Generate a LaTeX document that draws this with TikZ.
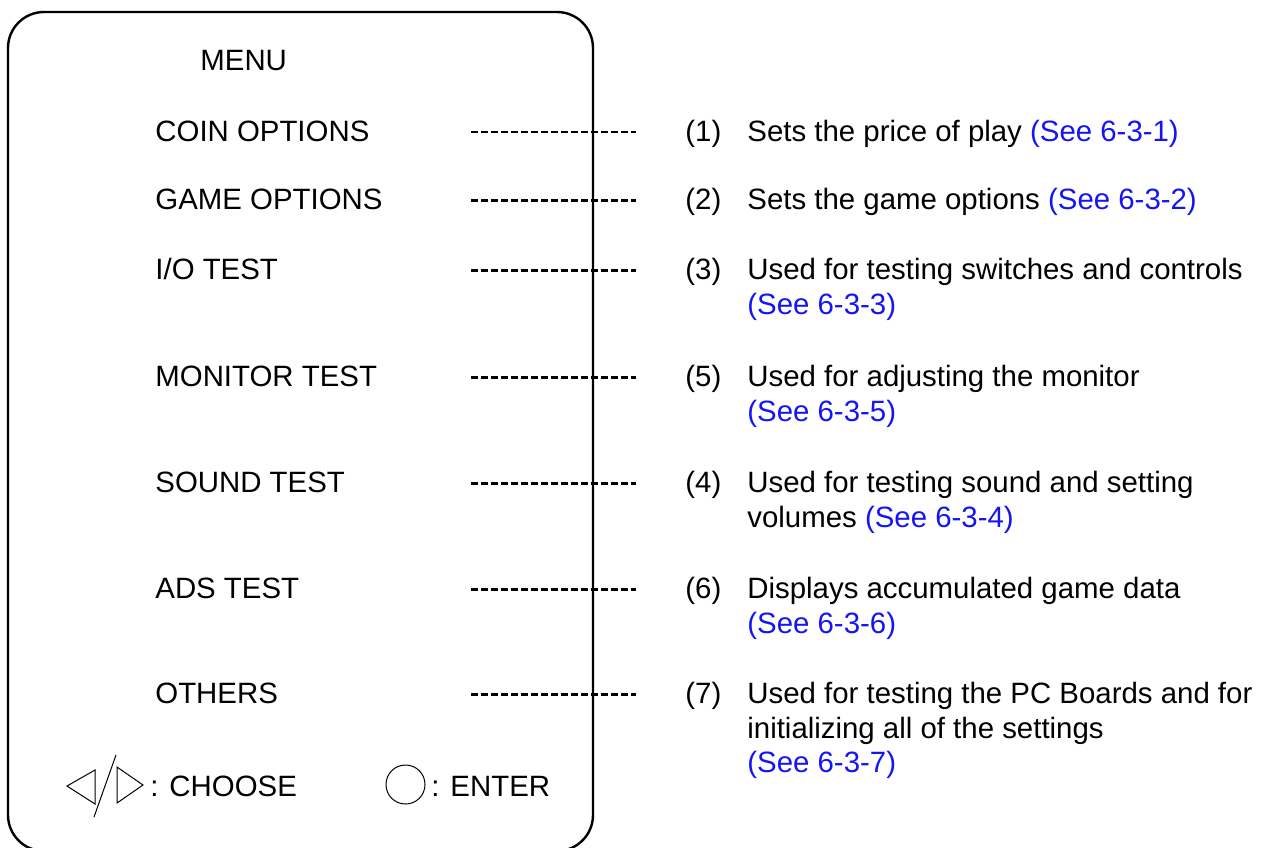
\documentclass[tikz,border=0pt]{standalone}
\usepackage{fontspec}
\setmainfont{Liberation Sans}
\definecolor{refblue}{RGB}{20,20,245}
\begin{document}
\begin{tikzpicture}[x=0.5pt,y=-0.5pt,
  txt/.style={anchor=base west,inner sep=0pt,font=\fontsize{14.7pt}{17.25pt}\selectfont},
  dashline/.style={line width=1.2pt,dash pattern=on 3.5pt off 1.5pt},
  frame/.style={line width=1.2pt,rounded corners=18pt},
  thin/.style={line width=0.5pt},
  see/.style={text=refblue}]
\useasboundingbox (0,0) rectangle (1272,847);
% title
\node[txt] (menu) at (200,70.5) {MENU};
% menu items
\node[txt] (m1) at (155,141) {COIN OPTIONS};
\node[txt] (m2) at (155,209.5) {GAME OPTIONS};
\node[txt] (m3) at (155,279.5) {I/O TEST};
\node[txt] (m4) at (155,386.5) {MONITOR TEST};
\node[txt] (m5) at (155,492.5) {SOUND TEST};
\node[txt] (m6) at (155,598.5) {ADS TEST};
\node[txt] (m7) at (155,703.5) {OTHERS};
% numbers
\node[txt] (n1) at (685,141) {(1)};
\node[txt] (n2) at (685,209.5) {(2)};
\node[txt] (n3) at (685,279.5) {(3)};
\node[txt] (n4) at (685,386.5) {(5)};
\node[txt] (n5) at (685,492.5) {(4)};
\node[txt] (n6) at (685,598.5) {(6)};
\node[txt] (n7) at (685,703.5) {(7)};
% descriptions
\node[txt] (d1) at (747,141) {Sets the price of play \textcolor{refblue}{(See 6-3-1)}};
\node[txt] (d2) at (747,209.5) {Sets the game options \textcolor{refblue}{(See 6-3-2)}};
\node[txt] (d3) at (747,279.5) {Used for testing switches and controls};
\node[txt,see] (d3b) at (747,314) {(See 6-3-3)};
\node[txt] (d4) at (747,386.5) {Used for adjusting the monitor};
\node[txt,see] (d4b) at (747,421) {(See 6-3-5)};
\node[txt] (d5) at (747,492.5) {Used for testing sound and setting};
\node[txt] (d5b) at (747,527) {volumes \textcolor{refblue}{(See 6-3-4)}};
\node[txt] (d6) at (747,598.5) {Displays accumulated game data};
\node[txt,see] (d6b) at (747,633) {(See 6-3-6)};
\node[txt] (d7) at (747,703.5) {Used for testing the PC Boards and for};
\node[txt] (d7b) at (747,738) {initializing all of the settings};
\node[txt,see] (d7c) at (747,772.5) {(See 6-3-7)};
% dashed leaders
\foreach \i/\y in {1/132,2/200.5,3/270.5,4/377.5,5/483.5,6/589.5,7/694.5}{
  \coordinate (s\i) at (471,\y);
  \coordinate (e\i) at (636,\y);
  \draw[dashline] (s\i) -- (e\i);
}
% frame (drawn on top of the leaders)
\coordinate (tl) at (8,12);
\coordinate (tr) at (593,12);
\coordinate (br) at (593,851);
\coordinate (bl) at (8,851);
\draw[frame] (tl) -- (tr) -- (br) -- (bl) -- cycle;
% bottom legend
\draw[thin] (67,786) -- (95,770) -- (95,804) -- cycle;
\draw[thin] (116,755) -- (94,817);
\draw[thin] (117,767) -- (143,785) -- (117,803) -- cycle;
\node[txt] (choose) at (150,796) {: CHOOSE};
\coordinate (btn) at (405.5,784.5);
\draw[thin] (btn) circle [radius=9.75pt];
\node[txt] (enter) at (431,796) {: ENTER};
\end{tikzpicture}
\end{document}
